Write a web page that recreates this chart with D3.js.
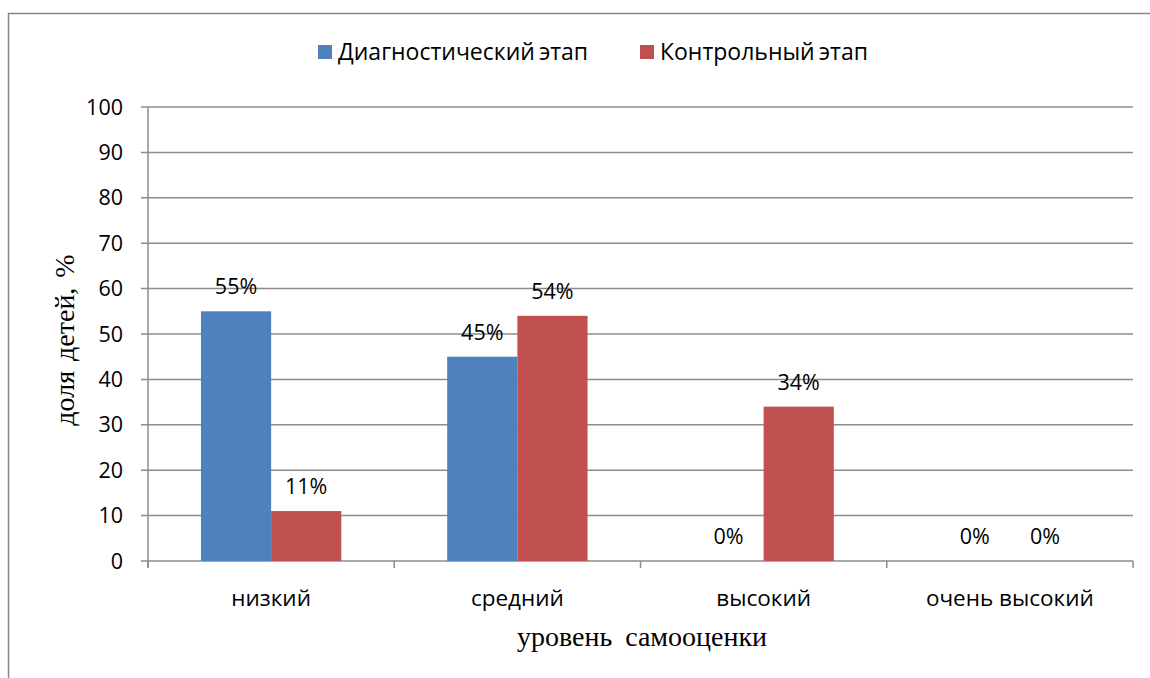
<!DOCTYPE html>
<html>
<head>
<meta charset="utf-8">
<script src="https://cdn.jsdelivr.net/npm/d3@7"></script>
<style>
  body { margin: 0; background: #fff; }
  svg text { font-family: "Open Sans", sans-serif; fill: #000; }
</style>
</head>
<body>
<svg id="chart" width="1150" height="678"></svg>
<script>
// data
const categories = ["низкий", "средний", "высокий", "очень высокий"];
const seriesNames = ["Диагностический этап", "Контрольный этап"];
const diagnostic = [55, 45, 0, 0];
const control = [11, 54, 34, 0];
const yTicks = [0, 10, 20, 30, 40, 50, 60, 70, 80, 90, 100];
const colors = ["#4F81BD", "#C0504D"];

const svg = d3.select("#chart");

// outer frame of the chart
svg.append("path")
  .attr("d", "M8.5,690 V13.5 H1160")
  .attr("fill", "none")
  .attr("stroke", "#868686")
  .attr("stroke-width", 1.5);

const plot = { left: 148, right: 1133, top: 107, bottom: 561 };

const y = d3.scaleLinear().domain([0, 100]).range([plot.bottom, plot.top]);
const x0 = d3.scaleBand().domain(categories).range([plot.left, plot.right]);
const pad = x0.bandwidth() * 0.215;
const x1 = d3.scaleBand().domain(seriesNames).range([pad, x0.bandwidth() - pad]);

// gridlines
svg.append("g")
  .selectAll("line")
  .data(yTicks)
  .enter()
  .append("line")
  .attr("x1", plot.left - 7)
  .attr("x2", plot.right)
  .attr("y1", d => y(d))
  .attr("y2", d => y(d))
  .attr("stroke", "#8c8c8c")
  .attr("stroke-width", 1.5);

// y axis line
svg.append("line")
  .attr("x1", plot.left).attr("x2", plot.left)
  .attr("y1", plot.top).attr("y2", plot.bottom + 7)
  .attr("stroke", "#8c8c8c")
  .attr("stroke-width", 1.5);

// category ticks under the axis
const bounds = categories.map(c => x0(c)).concat([plot.right]);
svg.append("g")
  .selectAll("line")
  .data(bounds)
  .enter()
  .append("line")
  .attr("x1", d => d).attr("x2", d => d)
  .attr("y1", plot.bottom).attr("y2", plot.bottom + 7)
  .attr("stroke", "#8c8c8c")
  .attr("stroke-width", 1.5);

// y tick labels
svg.append("g")
  .selectAll("text")
  .data(yTicks)
  .enter()
  .append("text")
  .attr("x", plot.left - 25)
  .attr("y", d => y(d))
  .attr("dy", "0.35em")
  .attr("text-anchor", "end")
  .style("font-size", "21.5px")
  .text(d => d);

// bars
const rows = categories.map((c, i) => ({ cat: c, values: [diagnostic[i], control[i]] }));
const groups = svg.append("g")
  .selectAll("g")
  .data(rows)
  .enter()
  .append("g")
  .attr("transform", d => `translate(${x0(d.cat)},0)`);

groups.selectAll("rect")
  .data(d => d.values.map((v, j) => ({ name: seriesNames[j], v, j })))
  .enter()
  .append("rect")
  .attr("x", d => x1(d.name))
  .attr("width", x1.bandwidth())
  .attr("y", d => y(d.v))
  .attr("height", d => y(0) - y(d.v))
  .attr("fill", d => colors[d.j]);

groups.selectAll("text")
  .data(d => d.values.map((v, j) => ({ name: seriesNames[j], v, j })))
  .enter()
  .append("text")
  .attr("x", d => x1(d.name) + x1.bandwidth() / 2)
  .attr("y", d => y(d.v) - 17)
  .attr("text-anchor", "middle")
  .style("font-size", "21.5px")
  .text(d => d.v + "%");

// category labels
svg.append("g")
  .selectAll("text")
  .data(categories)
  .enter()
  .append("text")
  .attr("x", d => x0(d) + x0.bandwidth() / 2)
  .attr("y", 606)
  .attr("text-anchor", "middle")
  .style("font-size", "22.5px")
  .text(d => d);

// axis titles
svg.append("text")
  .attr("x", 642)
  .attr("y", 646)
  .attr("text-anchor", "middle")
  .style("font-family", "'Liberation Serif', serif")
  .style("font-size", "28px")
  .style("word-spacing", "6px")
  .text("уровень самооценки");

svg.append("text")
  .attr("transform", "translate(74,340) rotate(-90)")
  .attr("text-anchor", "middle")
  .style("font-family", "'Liberation Serif', serif")
  .style("font-size", "28px")
  .style("word-spacing", "3px")
  .text("доля детей, %");

// legend
const legendX = [318, 640];
const legend = svg.append("g")
  .selectAll("g")
  .data(seriesNames)
  .enter()
  .append("g")
  .attr("transform", (d, i) => `translate(${legendX[i]},45)`);

legend.append("rect")
  .attr("width", 14)
  .attr("height", 14)
  .attr("fill", (d, i) => colors[i]);

legend.append("text")
  .attr("x", 20)
  .attr("y", 7)
  .attr("dy", "0.35em")
  .style("font-size", "23px")
  .style("word-spacing", "-2px")
  .text(d => d);
</script>
</body>
</html>
